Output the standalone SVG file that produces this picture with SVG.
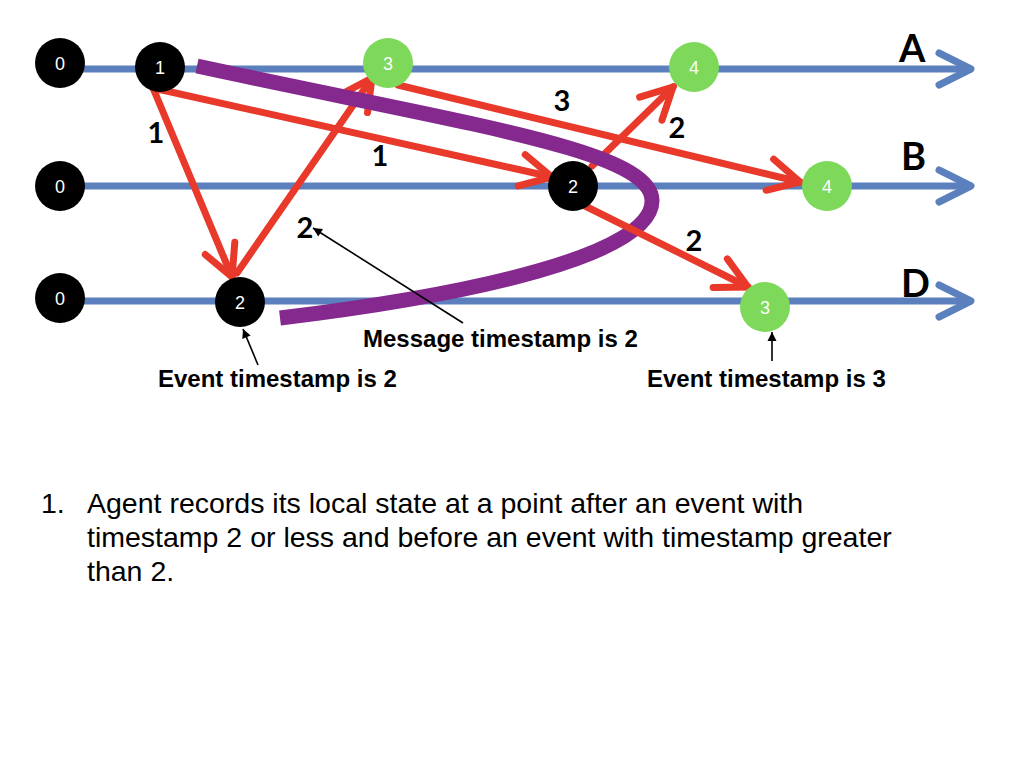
<svg xmlns="http://www.w3.org/2000/svg" width="1024" height="768" viewBox="0 0 1024 768">
<style>
.tl{stroke:#5b80bd;stroke-width:7;fill:none;stroke-linecap:round;stroke-linejoin:round}
.msg{stroke:#e8392b;stroke-width:7;fill:none;stroke-linecap:round;marker-end:url(#rh)}
.cut{stroke:#85298e;stroke-width:15;fill:none}
.ann{stroke:#000;stroke-width:1.6;fill:none;marker-end:url(#bh)}
.blk{fill:#000}
.grn{fill:#7ed85a}
.nl{font-family:"Liberation Sans",Arial,sans-serif;font-size:18px;fill:#fff;text-anchor:middle}
.ml{font-family:Lato,"DejaVu Sans",sans-serif;font-weight:700;font-size:29px;fill:#000;text-anchor:middle}
.ax{font-family:Lato,"DejaVu Sans",sans-serif;font-weight:700;font-size:38px;fill:#000}
.cap{font-family:"Liberation Sans",Arial,sans-serif;font-weight:700;font-size:24px;fill:#000}
.body{font-family:"Liberation Sans",Arial,sans-serif;font-size:28.5px;fill:#000}
</style>
<defs>
<marker id="rh" markerUnits="userSpaceOnUse" viewBox="-40 -24 48 48" markerWidth="48" markerHeight="48" refX="0" refY="0" orient="auto">
<path d="M-31,-16 L0,0 L-31,16" fill="none" stroke="#e8392b" stroke-width="7" stroke-linecap="round" stroke-linejoin="miter"/>
</marker>
<marker id="bh" markerUnits="userSpaceOnUse" viewBox="-10 -5 12 10" markerWidth="12" markerHeight="10" refX="0" refY="0" orient="auto">
<path d="M-9,-4.5 L0,0 L-9,4.5 Z" fill="#000"/>
</marker>
</defs>

<g id="timelines">
<line class="tl" x1="60" y1="69" x2="970" y2="69"/>
<polyline class="tl" points="939,53 971,69 939,85"/>
<line class="tl" x1="60" y1="186" x2="970" y2="186"/>
<polyline class="tl" points="939,170 971,186 939,202"/>
<line class="tl" x1="60" y1="301" x2="970" y2="301"/>
<polyline class="tl" points="939,285 971,301 939,317"/>
</g>

<g id="timeline-labels">
<text class="ax" x="899" y="62">A</text>
<text class="ax" x="901" y="170">B</text>
<text class="ax" x="901" y="297">D</text>
</g>

<g id="connectors">
<line class="msg" x1="237" y1="273" x2="372" y2="78"/>
<line class="msg" x1="153" y1="88" x2="232" y2="277"/>
<line class="msg" x1="153" y1="88" x2="552" y2="177"/>
<line class="msg" x1="398" y1="85" x2="800" y2="182"/>
<line class="msg" x1="592" y1="166" x2="673" y2="87"/>
</g>

<g id="cut">
<path class="cut" d="M197,66 C470,125 650,150 652,200 C654,255 470,295 280,318"/>
</g>

<g id="connectors-top">
<line class="msg" x1="583" y1="205" x2="748" y2="287"/>
</g>

<g id="message-labels">
<text class="ml" x="156" y="143">1</text>
<text class="ml" x="380" y="166">1</text>
<text class="ml" x="562" y="111">3</text>
<text class="ml" x="677" y="138">2</text>
<text class="ml" x="305" y="238">2</text>
<text class="ml" x="694" y="251">2</text>
</g>

<g id="node-A0"><circle class="blk" cx="60" cy="63" r="25"/><text class="nl" x="60" y="69.5">0</text></g>
<g id="node-A1"><circle class="blk" cx="160" cy="67" r="25"/><text class="nl" x="160" y="73.5">1</text></g>
<g id="node-A3"><circle class="grn" cx="388" cy="63" r="25"/><text class="nl" x="388" y="69.5">3</text></g>
<g id="node-A4"><circle class="grn" cx="694" cy="67" r="25"/><text class="nl" x="694" y="73.5">4</text></g>
<g id="node-B0"><circle class="blk" cx="60" cy="186" r="25"/><text class="nl" x="60" y="192.5">0</text></g>
<g id="node-B2"><circle class="blk" cx="573" cy="186" r="25"/><text class="nl" x="573" y="192.5">2</text></g>
<g id="node-B4"><circle class="grn" cx="827" cy="186" r="25"/><text class="nl" x="827" y="192.5">4</text></g>
<g id="node-D0"><circle class="blk" cx="60" cy="298" r="25"/><text class="nl" x="60" y="304.5">0</text></g>
<g id="node-D2"><circle class="blk" cx="240" cy="302" r="25"/><text class="nl" x="240" y="308.5">2</text></g>
<g id="node-D3"><circle class="grn" cx="765" cy="307" r="25"/><text class="nl" x="765" y="313.5">3</text></g>

<g id="annotations">
<line class="ann" x1="463" y1="323" x2="313" y2="228"/>
<line class="ann" x1="258" y1="365" x2="243" y2="329"/>
<line class="ann" x1="772" y1="361" x2="772" y2="332"/>
<text class="cap" x="363" y="347">Message timestamp is 2</text>
<text class="cap" x="158" y="387">Event timestamp is 2</text>
<text class="cap" x="647" y="387">Event timestamp is 3</text>
</g>

<g id="note">
<text class="body" x="41" y="513">1.</text>
<text class="body" x="87" y="513">Agent records its local state at a point after an event with</text>
<text class="body" x="87" y="547">timestamp 2 or less and before an event with timestamp greater</text>
<text class="body" x="87" y="581">than 2.</text>
</g>
</svg>
